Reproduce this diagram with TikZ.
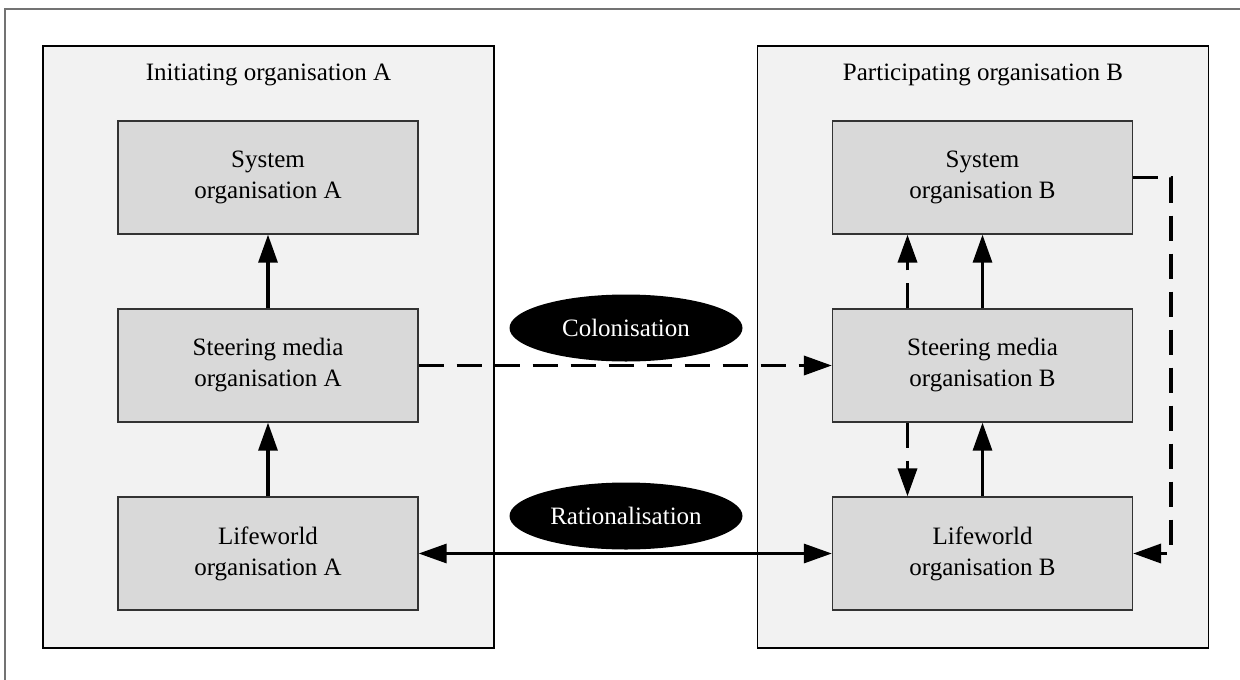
\documentclass[tikz,border=0pt]{standalone}
\usepackage{fontspec}
\setmainfont{Liberation Serif}
\usetikzlibrary{arrows.meta, positioning, shapes.geometric, calc}
\definecolor{panelgrey}{HTML}{F2F2F2}
\definecolor{boxgrey}{HTML}{D9D9D9}
\newcommand{\Txt}{\fontsize{25}{31}\selectfont}
\tikzset{
    panel/.style={draw=black, line width=1.3pt, fill=panelgrey, minimum width=451pt, minimum height=602pt},
    orgbox/.style={draw=black!80, line width=1.3pt, fill=boxgrey, minimum width=300pt, minimum height=113pt, align=center, font=\Txt},
    blob/.style={ellipse, fill=black, text=white, minimum width=233pt, minimum height=67pt, inner sep=0pt, font=\Txt},
    flow/.style={line width=3.1pt, -{Triangle[length=28pt, width=19pt]}},
    dflow/.style={flow, line width=3.6pt, dash pattern=on 25pt off 13pt},
}

\begin{document}
\begin{tikzpicture}[x=1pt, y=-1pt]
    \useasboundingbox (0,0) rectangle (1240,680);
    \draw[black!55, line width=1.6pt] (1240,9) -- (5,9) -- (5,680);

    \node[panel] (pA) at (268.5,347) {};
    \node[panel] (pB) at (983,347) {};
    \node[font=\Txt] (tA) at (268.5,75) {Initiating organisation A};
    \node[font=\Txt] (tB) at (983,75) {Participating organisation B};

    \node[orgbox] (syA) at (268,177.5) {System\\organisation A};
    \node[orgbox] (stA) at (268,365.5) {Steering media\\organisation A};
    \node[orgbox] (lwA) at (268,553.5) {Lifeworld\\organisation A};

    \node[orgbox] (syB) at (982.5,177.5) {System\\organisation B};
    \node[orgbox] (stB) at (982.5,365.5) {Steering media\\organisation B};
    \node[orgbox] (lwB) at (982.5,553.5) {Lifeworld\\organisation B};

    \node[blob] (col) at (626,328) {Colonisation};
    \node[blob] (rat) at (626,516) {Rationalisation};

    % organisation A
    \draw[flow] (stA.north) -- (syA.south);
    \draw[flow] (lwA.north) -- (stA.south);

    % between the organisations
    \draw[dflow] (stA.east) -- (stB.west);
    \draw[flow, {Triangle[length=28pt, width=19pt]}-{Triangle[length=28pt, width=19pt]}] (lwA.east) -- (lwB.west);

    % organisation B
    \draw[flow] (stB.north) -- (syB.south);
    \draw[flow] (lwB.north) -- (stB.south);
    \draw[dflow] ([xshift=-75pt]stB.north) -- ([xshift=-75pt]syB.south);
    \draw[dflow] ([xshift=-75pt]stB.south) -- ([xshift=-75pt]lwB.north);
    \draw[dflow] (syB.east) -- ++(38,0) |- (lwB.east);
\end{tikzpicture}
\end{document}
